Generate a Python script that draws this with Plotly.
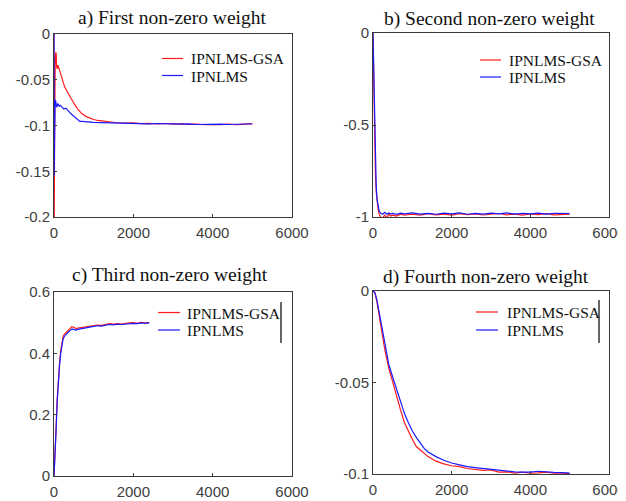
import plotly.graph_objects as go

# ---------------- data ----------------
names = ["IPNLMS-GSA", "IPNLMS"]
titles = ["a) First non-zero weight", "b) Second non-zero weight",
          "c) Third non-zero weight", "d) Fourth non-zero weight"]
x_ticks = [0, 2000, 4000, 6000]

# a) first weight
a_red_x = [0, 5, 15, 30, 45, 55, 65, 80, 100, 120, 140, 160, 190, 230, 270, 320, 380, 450, 520, 600,
           700, 800, 900, 1000, 1100, 1250, 1400, 1600, 1800, 2000, 2200, 2400, 2600, 2800, 3000,
           3200, 3400, 3600, 3800, 4000, 4200, 4400, 4600, 4800, 5000]
a_red_y = [0, -0.21, -0.12, -0.03, -0.02, -0.022, -0.035, -0.038, -0.034, -0.037, -0.04, -0.043,
           -0.047, -0.053, -0.058, -0.062, -0.067, -0.072, -0.077, -0.082, -0.087, -0.09, -0.092,
           -0.0935, -0.0945, -0.0955, -0.096, -0.097, -0.0975, -0.0972, -0.098, -0.0976, -0.0982,
           -0.0978, -0.0985, -0.098, -0.0988, -0.0984, -0.0992, -0.0995, -0.099, -0.0985, -0.0992,
           -0.0986, -0.0983]
a_blue_x = [0, 5, 15, 25, 35, 50, 65, 80, 100, 130, 160, 200, 250, 300, 350, 400, 450, 500, 550,
            600, 650, 700, 800, 900, 1000, 1200, 1400, 1600, 1800, 2000, 2200, 2400, 2600, 2800,
            3000, 3200, 3400, 3600, 3800, 4000, 4200, 4400, 4600, 4800, 5000]
a_blue_y = [0, -0.155, -0.11, -0.08, -0.072, -0.075, -0.08, -0.077, -0.076, -0.079, -0.078, -0.08,
            -0.082, -0.081, -0.084, -0.086, -0.088, -0.09, -0.092, -0.094, -0.0955, -0.0955,
            -0.096, -0.0958, -0.0965, -0.0968, -0.097, -0.0975, -0.0978, -0.0975, -0.0979,
            -0.0983, -0.0978, -0.0984, -0.0982, -0.0986, -0.0983, -0.0989, -0.0985, -0.0988,
            -0.0984, -0.0989, -0.0986, -0.0983, -0.0981]

# b) second weight
b_red_x = [0, 20, 40, 60, 80, 100, 130, 160, 200, 230, 260, 300, 350, 400, 450, 500, 600, 700,
           800, 1000, 1200, 1400, 1600, 1800, 2000, 2200, 2400, 2600, 2800, 3000, 3200, 3400,
           3600, 3800, 4000, 4200, 4400, 4600, 4800, 5000]
b_red_y = [0, -0.3, -0.55, -0.75, -0.86, -0.92, -0.96, -0.985, -1.01, -1.02, -1.0, -0.99, -1.005,
           -0.985, -0.995, -0.99, -0.995, -0.985, -0.99, -0.985, -0.99, -0.982, -0.988, -0.984,
           -0.99, -0.982, -0.987, -0.983, -0.989, -0.985, -0.981, -0.988, -0.984, -0.99, -0.983,
           -0.987, -0.982, -0.988, -0.985, -0.984]
b_blue_x = [0, 20, 40, 60, 80, 100, 130, 160, 200, 250, 300, 350, 400, 450, 500, 600, 700, 800,
            1000, 1200, 1400, 1600, 1800, 2000, 2200, 2400, 2600, 2800, 3000, 3200, 3400, 3600,
            3800, 4000, 4200, 4400, 4600, 4800, 5000]
b_blue_y = [0, -0.25, -0.5, -0.7, -0.82, -0.9, -0.95, -0.97, -0.98, -0.985, -0.975, -0.985,
            -0.978, -0.984, -0.98, -0.986, -0.979, -0.983, -0.978, -0.984, -0.98, -0.985, -0.979,
            -0.983, -0.978, -0.985, -0.98, -0.984, -0.979, -0.983, -0.978, -0.984, -0.98, -0.983,
            -0.979, -0.984, -0.98, -0.982, -0.981]

# c) third weight
c_red_x = [0, 20, 50, 80, 110, 140, 170, 200, 230, 260, 300, 350, 400, 450, 500, 550, 600, 700,
           800, 900, 1000, 1100, 1200, 1300, 1400, 1500, 1600, 1700, 1800, 1900, 2000, 2100, 2200,
           2300, 2400]
c_red_y = [0, 0.05, 0.15, 0.25, 0.32, 0.37, 0.41, 0.44, 0.455, 0.462, 0.468, 0.474, 0.481, 0.487,
           0.485, 0.481, 0.482, 0.484, 0.487, 0.489, 0.491, 0.492, 0.491, 0.494, 0.497, 0.495,
           0.497, 0.495, 0.498, 0.499, 0.5, 0.498, 0.501, 0.499, 0.5]
c_blue_x = [0, 20, 50, 80, 110, 140, 170, 200, 230, 260, 300, 350, 400, 450, 500, 550, 600, 700,
            800, 900, 1000, 1100, 1200, 1300, 1400, 1500, 1600, 1700, 1800, 1900, 2000, 2100, 2200,
            2300, 2400]
c_blue_y = [0, 0.045, 0.14, 0.24, 0.31, 0.36, 0.4, 0.43, 0.447, 0.455, 0.462, 0.468, 0.474, 0.479,
            0.478, 0.476, 0.478, 0.481, 0.484, 0.486, 0.488, 0.49, 0.489, 0.492, 0.494, 0.493,
            0.495, 0.494, 0.496, 0.497, 0.498, 0.497, 0.499, 0.498, 0.499]

# d) fourth weight
d_x = [0, 50, 100, 150, 200, 250, 300, 400, 500, 600, 700, 800, 900, 1000, 1100, 1200, 1300,
       1400, 1600, 1800, 2000, 2200, 2400, 2600, 2800, 3000, 3200, 3400, 3600, 3800, 4000, 4200,
       4400, 4600, 4800, 5000]
d_red_y = [0, -0.001, -0.006, -0.013, -0.02, -0.026, -0.032, -0.042, -0.05, -0.058, -0.065,
           -0.072, -0.077, -0.081, -0.085, -0.087, -0.089, -0.0905, -0.093, -0.0945, -0.0955,
           -0.096, -0.097, -0.0975, -0.098, -0.0978, -0.099, -0.0988, -0.0995, -0.099, -0.0996,
           -0.0994, -0.099, -0.0996, -0.0994, -0.0998]
d_blue_y = [0, -0.001, -0.005, -0.011, -0.018, -0.024, -0.03, -0.04, -0.047, -0.054, -0.061,
            -0.067, -0.072, -0.0765, -0.08, -0.083, -0.086, -0.088, -0.0905, -0.0925, -0.094,
            -0.095, -0.096, -0.0965, -0.097, -0.0975, -0.098, -0.0985, -0.0988, -0.099, -0.099,
            -0.0985, -0.099, -0.0991, -0.0992, -0.0995]

# ---------------- figure ----------------
OFF = 8                      # page body margin
W, H = 626 - OFF, 501 - OFF
RED, BLUE = "#ff1a1a", "#1a1aff"
SERIF = "Liberation Serif"
SANS = "Liberation Sans, Arial, sans-serif"

def px_x(p):
    return (p - OFF) / W

def px_y(p):
    return 1 - (p - OFF) / H

panels = [
    dict(red=(a_red_x, a_red_y), blue=(a_blue_x, a_blue_y), yr=[-0.2, 0],
         yt=[0, -0.05, -0.1, -0.15, -0.2], ytt=["0", "-0.05", "-0.1", "-0.15", "-0.2"],
         dx=(54, 292), dy=(34, 217), title=(172, 18),
         leg=dict(x0=162, x1=183, tx=189, yr=58.5, yb=75.5)),
    dict(red=(b_red_x, b_red_y), blue=(b_blue_x, b_blue_y), yr=[-1, 0],
         yt=[0, -0.5, -1], ytt=["0", "-0.5", "-1"],
         dx=(373, 609), dy=(33, 217), title=(490, 19),
         leg=dict(x0=480, x1=501, tx=507, yr=60, yb=77)),
    dict(red=(c_red_x, c_red_y), blue=(c_blue_x, c_blue_y), yr=[0, 0.6],
         yt=[0, 0.2, 0.4, 0.6], ytt=["0", "0.2", "0.4", "0.6"],
         dx=(54, 292), dy=(292, 476), title=(170, 275),
         leg=dict(x0=158, x1=180, tx=185, yr=312.5, yb=330)),
    dict(red=(d_x, d_red_y), blue=(d_x, d_blue_y), yr=[-0.1, 0],
         yt=[0, -0.05, -0.1], ytt=["0", "-0.05", "-0.1"],
         dx=(373, 609), dy=(291, 474), title=(486, 277),
         leg=dict(x0=476, x1=498, tx=505, yr=312, yb=330)),
]

fig = go.Figure()
layout = dict(width=W, height=H, margin=dict(l=0, r=0, t=0, b=0, autoexpand=False),
              paper_bgcolor="white", plot_bgcolor="white", showlegend=False,
              annotations=[], shapes=[])

for i, p in enumerate(panels):
    k = "" if i == 0 else str(i + 1)
    for nm, col, key in [(names[0], RED, "red"), (names[1], BLUE, "blue")]:
        xs, ys = p[key]
        fig.add_trace(go.Scatter(x=xs, y=ys, mode="lines", name=nm,
                                 line=dict(color=col, width=1.2),
                                 xaxis="x" + k, yaxis="y" + k))
    axcommon = dict(showline=True, mirror=True, linecolor="#3a3a3a", linewidth=1,
                    showgrid=False, zeroline=False, ticks="inside", ticklen=3,
                    tickcolor="#3a3a3a", automargin=False,
                    tickfont=dict(family=SANS, size=15, color="#404040"))
    layout["xaxis" + k] = dict(domain=[px_x(p["dx"][0]), px_x(p["dx"][1])], range=[0, 6000],
                               tickvals=x_ticks, ticktext=[str(v) for v in x_ticks],
                               anchor="y" + k, ticklabelstandoff=2, **axcommon)
    layout["yaxis" + k] = dict(domain=[px_y(p["dy"][1]), px_y(p["dy"][0])], range=p["yr"],
                               tickvals=p["yt"], ticktext=p["ytt"], anchor="x" + k, **axcommon)
    layout["annotations"].append(dict(text=titles[i], x=px_x(p["title"][0]), y=px_y(p["title"][1]),
                                      xref="paper", yref="paper", xanchor="center",
                                      yanchor="middle", showarrow=False,
                                      font=dict(family=SERIF, size=19.5, color="#111111")))
    # legend (line sample + label) for this panel
    lg = p["leg"]
    for nm, col, yy in [(names[0], RED, lg["yr"]), (names[1], BLUE, lg["yb"])]:
        layout["shapes"].append(dict(type="line", xref="paper", yref="paper",
                                     x0=px_x(lg["x0"]), x1=px_x(lg["x1"]),
                                     y0=px_y(yy), y1=px_y(yy),
                                     line=dict(color=col, width=1.2)))
        layout["annotations"].append(dict(text=nm, x=px_x(lg["tx"]), y=px_y(yy + 0.5),
                                          xref="paper", yref="paper", xanchor="left",
                                          yanchor="middle", showarrow=False,
                                          font=dict(family=SERIF, size=15.5, color="#111111")))

# small vertical bars at the right of legends c and d
for xx, y0, y1 in [(281, 302, 343), (599, 300, 343)]:
    layout["shapes"].append(dict(type="line", xref="paper", yref="paper",
                                 x0=px_x(xx), x1=px_x(xx), y0=px_y(y0), y1=px_y(y1),
                                 line=dict(color="#333333", width=1.5)))

fig.update_layout(**layout)
fig.write_html("out.html")
